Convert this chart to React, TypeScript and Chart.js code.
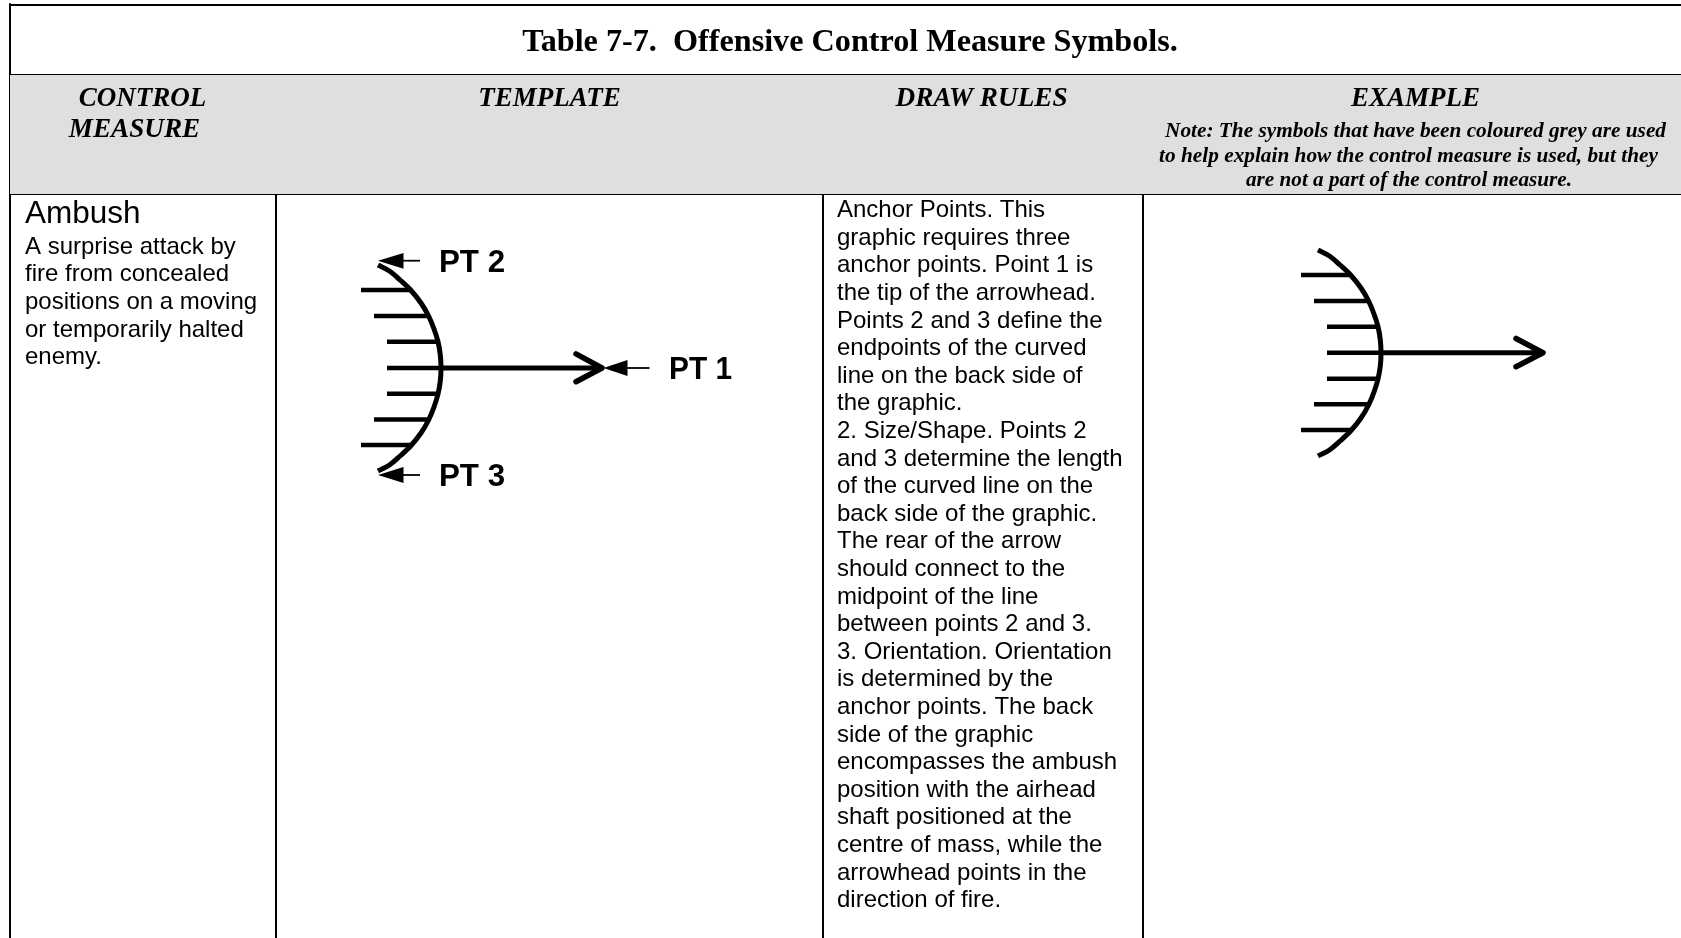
import React, { useEffect, useRef } from "react";
import { Chart, registerables } from "chart.js";

Chart.register(...registerables);

type P = { x: number; y: number };
const pts = (a: number[][]): P[] => a.map(([x, y]) => ({ x, y }));

// ---- texts ----
const titleText = "Table 7-7.  Offensive Control Measure Symbols.";
const headerLabels = ["CONTROL", "MEASURE", "TEMPLATE", "DRAW RULES", "EXAMPLE"];
const noteLines = [
  "Note: The symbols that have been coloured grey are used",
  "to help explain how the control measure is used, but they",
  "are not a part of the control measure.",
];
const measureName = "Ambush";
const measureLines = [
  "A surprise attack by",
  "fire from concealed",
  "positions on a moving",
  "or temporarily halted",
  "enemy.",
];
const ruleLines = [
  "Anchor Points. This",
  "graphic requires three",
  "anchor points. Point 1 is",
  "the tip of the arrowhead.",
  "Points 2 and 3 define the",
  "endpoints of the curved",
  "line on the back side of",
  "the graphic.",
  "2. Size/Shape. Points 2",
  "and 3 determine the length",
  "of the curved line on the",
  "back side of the graphic.",
  "The rear of the arrow",
  "should connect to the",
  "midpoint of the line",
  "between points 2 and 3.",
  "3. Orientation. Orientation",
  "is determined by the",
  "anchor points. The back",
  "side of the graphic",
  "encompasses the ambush",
  "position with the airhead",
  "shaft positioned at the",
  "centre of mass, while the",
  "arrowhead points in the",
  "direction of fire.",
];
const pointLabels = ["PT 1", "PT 2", "PT 3"];

// ---- table frame ----
const headerBand = [[10, 75], [1681, 75], [1681, 194], [10, 194], [10, 75]];
const faintRule = [[24, 145], [262, 145]];
const frameRules = [
  [[9, 5], [1681, 5]],
  [[10, 75], [1681, 75]],
  [[10, 194], [1681, 194]],
  [[10, 4], [10, 938]],
  [[276, 75], [276, 938]],
  [[823, 75], [823, 938]],
  [[1143, 75], [1143, 938]],
];

// ---- template symbol ----
const templateArc = [
  [378, 265], [389.5, 271], [400, 280], [410.6, 290], [421, 303], [428.6, 316], [434, 329],
  [438, 341.7], [440.3, 355], [441, 368], [440.3, 381], [438, 394], [434, 407],
  [428.6, 420], [421, 433], [410.6, 446], [400, 456], [389.5, 465], [378, 471],
];
const templateHatches = [
  [[361, 290], [411, 290]],
  [[374, 316], [428, 316]],
  [[387, 341.7], [437, 341.7]],
  [[387, 368], [441, 368]],
  [[387, 393.7], [437, 393.7]],
  [[374, 419.5], [428, 419.5]],
  [[361, 445], [411, 445]],
];
const templateShaft = [[441, 368], [600, 368]];
const templateHead = [[576, 353.8], [602, 368], [576, 381.7]];
const pointerStems = [
  [[627, 368], [649.5, 368]],
  [[403, 260.7], [420, 260.7]],
  [[403, 475], [420, 475]],
];
const pointerHeads = [
  [[603.5, 368], [627.5, 360], [627.5, 376], [603.5, 368]],
  [[378, 260.7], [403.5, 253], [403.5, 268.7], [378, 260.7]],
  [[378, 475], [403.5, 467], [403.5, 483], [378, 475]],
];

// ---- example symbol ----
const exampleArc = [
  [1318, 250], [1329.5, 256], [1340, 265], [1350.6, 275], [1361, 288], [1368.6, 301], [1374, 314],
  [1378, 326.7], [1380.3, 340], [1381, 353], [1380.3, 366], [1378, 379], [1374, 392],
  [1368.6, 405], [1361, 418], [1350.6, 431], [1340, 441], [1329.5, 450], [1318, 456],
];
const exampleHatches = [
  [[1301, 275], [1351, 275]],
  [[1314, 301], [1368, 301]],
  [[1327, 326.7], [1378, 326.7]],
  [[1327, 352.7], [1381, 352.7]],
  [[1327, 378.7], [1378, 378.7]],
  [[1314, 404.3], [1368, 404.3]],
  [[1301, 430], [1351, 430]],
];
const exampleShaft = [[1381, 352.7], [1542, 352.7]];
const exampleHead = [[1516, 338.5], [1543, 352.7], [1516, 366.7]];

const line = (data: number[][], width: number, color = "#000", extra: any = {}) => ({
  data: pts(data),
  borderColor: color,
  borderWidth: width,
  pointRadius: 0,
  fill: false,
  tension: 0,
  borderCapStyle: "butt",
  borderJoinStyle: "round",
  ...extra,
});
const shape = (data: number[][], color: string) => ({
  data: pts(data),
  borderColor: color,
  backgroundColor: color,
  borderWidth: 0,
  pointRadius: 0,
  fill: "shape",
  tension: 0,
});

const SERIF = '"Liberation Serif"';
const SANS = '"Liberation Sans"';

const textPlugin = {
  id: "tableText",
  afterDatasetsDraw(chart: any) {
    const { ctx, scales } = chart;
    const X = (v: number) => scales.x.getPixelForValue(v);
    const Y = (v: number) => scales.y.getPixelForValue(v);
    const put = (t: string, x: number, y: number, font: string, align: CanvasTextAlign = "left", maxW?: number) => {
      ctx.font = font;
      ctx.textAlign = align;
      ctx.textBaseline = "alphabetic";
      ctx.fillStyle = "#000";
      if (maxW) ctx.fillText(t, X(x), Y(y), maxW);
      else ctx.fillText(t, X(x), Y(y));
    };
    ctx.save();
    put(titleText, 850, 51, `bold 32.2px ${SERIF}`, "center");
    const hf = `italic bold 27px ${SERIF}`;
    const hfWide = `italic bold 27.2px ${SERIF}`;
    put(headerLabels[0], 142.5, 106, hf, "center");
    put(headerLabels[1], 134.5, 137, hfWide, "center");
    put(headerLabels[2], 549.5, 106, hf, "center");
    put(headerLabels[3], 981.5, 106, hfWide, "center");
    put(headerLabels[4], 1415.5, 106, hf, "center");
    const nf = `italic bold 21.3px ${SERIF}`;
    put(noteLines[0], 1415.5, 136.5, nf, "center", 501);
    put(noteLines[1], 1408.5, 161.5, nf, "center", 499);
    put(noteLines[2], 1409, 186.3, nf, "center", 326);
    put(measureName, 25, 223, `31.5px ${SANS}`);
    measureLines.forEach((t, i) => put(t, 25, 253.7 + i * 27.6, `24px ${SANS}`));
    ruleLines.forEach((t, i) => put(t, 837, 217.1 + i * 27.6, `24px ${SANS}`));
    const pf = `bold 31.3px ${SANS}`;
    put(pointLabels[0], 669, 379, pf, "left", 63);
    put(pointLabels[1], 439, 272, pf);
    put(pointLabels[2], 439, 486, pf);
    ctx.restore();
  },
};

export default function App() {
  const ref = useRef<HTMLCanvasElement>(null);
  useEffect(() => {
    if (!ref.current) return;
    const chart = new Chart(ref.current, {
      type: "line",
      data: {
        datasets: [
          shape(headerBand, "#dfdfdf"),
          line(faintRule, 1, "#e9e9e9"),
          ...frameRules.map((r) => line(r, 2)),
          line(templateArc, 5, "#000", { tension: 0.35 }),
          ...templateHatches.map((h) => line(h, 4.5)),
          line(templateShaft, 5),
          line(templateHead, 5.5, "#000", { borderCapStyle: "round" }),
          ...pointerStems.map((s) => line(s, 1.8)),
          ...pointerHeads.map((h) => shape(h, "#000")),
          line(exampleArc, 5, "#000", { tension: 0.35 }),
          ...exampleHatches.map((h) => line(h, 4.5)),
          line(exampleShaft, 5),
          line(exampleHead, 5.5, "#000", { borderCapStyle: "round" }),
        ] as any,
      },
      options: {
        animation: false,
        responsive: false,
        maintainAspectRatio: false,
        layout: { padding: 0 },
        plugins: { legend: { display: false }, tooltip: { enabled: false }, title: { display: false } },
        events: [],
        scales: {
          x: { type: "linear", min: 0, max: 1681, display: false },
          y: { type: "linear", min: 0, max: 938, reverse: true, display: false },
        },
      },
      plugins: [textPlugin],
    });
    return () => chart.destroy();
  }, []);
  return (
    <div style={{ position: "absolute", left: 0, top: 0, width: 1681, height: 938, overflow: "hidden", background: "#fff" }}>
      <canvas ref={ref} width={1681} height={938} style={{ display: "block" }} />
    </div>
  );
}
